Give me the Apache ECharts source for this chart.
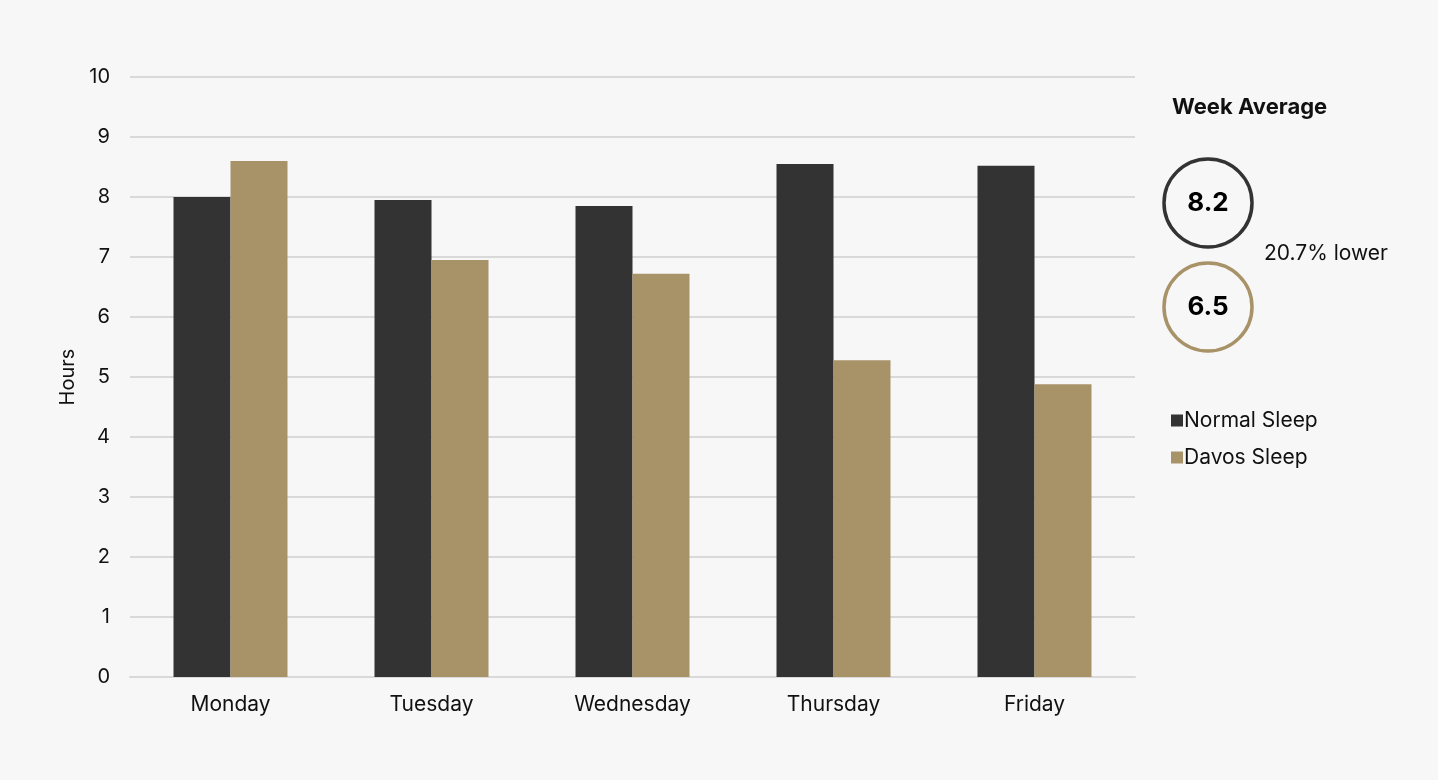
<!DOCTYPE html>
<html>
<head>
<meta charset="utf-8">
<script src="https://cdn.jsdelivr.net/npm/echarts@6/dist/echarts.min.js"></script>
<style>
html,body{margin:0;padding:0;background:#f7f7f7;}
#chart{width:1438px;height:780px;}
</style>
</head>
<body>
<div id="chart"></div>
<script>
const categories = ['Monday', 'Tuesday', 'Wednesday', 'Thursday', 'Friday'];
const normalSleep = [8.0, 7.95, 7.85, 8.55, 8.52];
const davosSleep = [8.6, 6.95, 6.72, 5.28, 4.88];
const seriesNames = ['Normal Sleep', 'Davos Sleep'];
const weekAverages = ['8.2', '6.5'];
const diffLabel = '20.7% lower';
const panelTitle = 'Week Average';

const DARK = '#333333';
const TAN = '#a89268';
const FONT = 'Inter, "Open Sans", sans-serif';

const chart = echarts.init(document.getElementById('chart'));
chart.setOption({
  backgroundColor: '#f7f7f7',
  animation: false,
  textStyle: { fontFamily: FONT },
  grid: { left: 130, right: 303, top: 77, bottom: 103, containLabel: false },
  legend: {
    orient: 'vertical',
    left: 1166,
    top: 405,
    icon: 'rect',
    itemWidth: 12,
    itemHeight: 12,
    itemGap: 16,
    textStyle: { fontFamily: FONT, fontSize: 21, color: '#111', padding: [0, 0, 0, -4] },
    data: seriesNames
  },
  xAxis: {
    type: 'category',
    data: categories,
    axisLine: { lineStyle: { color: '#d9d9d9', width: 2 } },
    axisTick: { show: false },
    axisLabel: { color: '#111', fontSize: 21, margin: 17, fontFamily: FONT }
  },
  yAxis: {
    type: 'value',
    min: 0,
    max: 10,
    interval: 1,
    name: 'Hours',
    nameLocation: 'middle',
    nameGap: 47,
    nameRotate: 90,
    nameTextStyle: { color: '#111', fontSize: 20, fontFamily: FONT },
    axisLine: { show: false },
    axisTick: { show: false },
    splitLine: { lineStyle: { color: '#d9d9d9', width: 2 } },
    axisLabel: { color: '#111', fontSize: 20, margin: 20, fontFamily: FONT }
  },
  series: [
    { name: seriesNames[0], type: 'bar', data: normalSleep, barWidth: 57, barGap: '0%', itemStyle: { color: DARK } },
    { name: seriesNames[1], type: 'bar', data: davosSleep, barWidth: 57, barGap: '0%', itemStyle: { color: TAN } }
  ],
  graphic: [
    { type: 'text', x: 1172, y: 107, style: { text: panelTitle, fontSize: 22, fontWeight: 'bold', fill: '#111', verticalAlign: 'middle', fontFamily: FONT } },
    { type: 'circle', shape: { cx: 1208, cy: 203, r: 44 }, style: { fill: 'none', stroke: DARK, lineWidth: 3.5 } },
    { type: 'circle', shape: { cx: 1208, cy: 307, r: 44 }, style: { fill: 'none', stroke: TAN, lineWidth: 3.5 } },
    { type: 'text', x: 1208, y: 203, style: { text: weekAverages[0], fontSize: 26, fontWeight: 'bold', fill: '#000', align: 'center', verticalAlign: 'middle', fontFamily: FONT } },
    { type: 'text', x: 1208, y: 307, style: { text: weekAverages[1], fontSize: 26, fontWeight: 'bold', fill: '#000', align: 'center', verticalAlign: 'middle', fontFamily: FONT } },
    { type: 'text', x: 1264, y: 254, style: { text: diffLabel, fontSize: 21, fill: '#111', align: 'left', verticalAlign: 'middle', fontFamily: FONT } }
  ]
});
</script>
</body>
</html>
